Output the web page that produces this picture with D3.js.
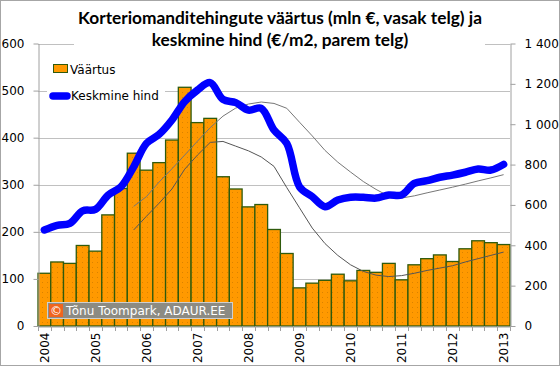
<!DOCTYPE html>
<html><head><meta charset="utf-8">
<script src="https://cdn.jsdelivr.net/npm/d3@7"></script>
<style>
html,body{margin:0;padding:0;background:#fff;}
svg{display:block;font-family:"DejaVu Sans",Verdana,sans-serif;}
</style></head>
<body>
<svg id="chart" width="560" height="366"></svg>
<script>
const quarters = ["2004 Q1","2004 Q2","2004 Q3","2004 Q4","2005 Q1","2005 Q2","2005 Q3","2005 Q4",
"2006 Q1","2006 Q2","2006 Q3","2006 Q4","2007 Q1","2007 Q2","2007 Q3","2007 Q4",
"2008 Q1","2008 Q2","2008 Q3","2008 Q4","2009 Q1","2009 Q2","2009 Q3","2009 Q4",
"2010 Q1","2010 Q2","2010 Q3","2010 Q4","2011 Q1","2011 Q2","2011 Q3","2011 Q4",
"2012 Q1","2012 Q2","2012 Q3","2012 Q4","2013 Q1"];
const yearTicks = ["2004 Q1","2005 Q1","2006 Q1","2007 Q1","2008 Q1","2009 Q1","2010 Q1","2011 Q1","2012 Q1","2013 Q1"];
// Väärtus (mln €, left axis)
const vaartus = [112,136,133,171,159,236,292,367,331,347,395,507,432,441,317,291,253,258,205,154,81,91,97,110,96,118,114,133,98,130,143,151,137,164,181,177,173];
// Keskmine hind (€/m2, right axis)
const hind = [476,499,509,571,578,649,690,789,905,950,1021,1112,1169,1206,1123,1107,1070,1079,971,905,690,641,591,624,638,638,634,649,649,707,720,737,748,762,778,773,801];
// 8-quarter moving average trend lines, start at 2005 Q4
const hindTrend = [null,null,null,null,null,null,null,593,641,714,779,847,916,983,1040,1080,1100,1110,1103,1079,1010,942,870,812,763,716,677,643,634,645,660,674,688,703,719,734,750];
const vaartusTrend = [null,null,null,null,null,null,null,204,233,261,291,333,363,390,392,382,372,359,339,294,251,208,175,150,130,116,108,105,107,112,118,123,128,136,143,150,157];
const leftTicks = [0,100,200,300,400,500,600];
const rightTicks = [0,200,400,600,800,1000,1200,1400];
const titleLines = ["Korteriomanditehingute väärtus (mln €, vasak telg) ja","keskmine hind (€/m2, parem telg)"];

const svg = d3.select("#chart");
const L = 38, R = 510, B = 326, T = 43.5;
const x = d3.scaleBand().domain(quarters).range([L, R]).padding(0);
const yL = d3.scaleLinear().domain([0,600]).range([B, T]);
const yR = d3.scaleLinear().domain([0,1400]).range([B, T]);

// outer border
svg.append("rect").attr("x",0.5).attr("y",0.5).attr("width",559).attr("height",365)
  .attr("fill","#fff").attr("stroke","#a6a6a6");

// pattern for bars
const defs = svg.append("defs");
const pat = defs.append("pattern").attr("id","dots").attr("patternUnits","userSpaceOnUse")
  .attr("width",5).attr("height",5);
pat.append("rect").attr("width",5).attr("height",5).attr("fill","#ff9900");
pat.append("rect").attr("x",2).attr("y",2).attr("width",1).attr("height",1).attr("fill","#d98200");

// gridlines
svg.append("g").selectAll("line").data(leftTicks.filter(d=>d>0)).join("line")
  .attr("x1",L).attr("x2",R)
  .attr("y1",d=>Math.round(yL(d))+0.5).attr("y2",d=>Math.round(yL(d))+0.5)
  .attr("stroke","#c0c0c0").attr("stroke-width",1);

// bars
svg.append("g").selectAll("rect").data(vaartus).join("rect")
  .attr("x",(d,i)=>x(quarters[i]))
  .attr("width",x.bandwidth())
  .attr("y",d=>yL(d))
  .attr("height",d=>B-yL(d))
  .attr("fill","url(#dots)")
  .attr("stroke","#2f5a0c").attr("stroke-width",1.3);

// trend lines
const xc = i => x(quarters[i]) + x.bandwidth()/2;
const lineL = d3.line().defined(d=>d!=null).x((d,i)=>xc(i)).y(d=>yL(d));
const lineR = d3.line().defined(d=>d!=null).x((d,i)=>xc(i)).y(d=>yR(d));
svg.append("path").attr("d",lineL(vaartusTrend)).attr("fill","none").attr("stroke","#555").attr("stroke-width",1);
svg.append("path").attr("d",lineR(hindTrend)).attr("fill","none").attr("stroke","#777").attr("stroke-width",1);

// blue price line
const lineHind = d3.line().x((d,i)=>xc(i)).y(d=>yR(d)).curve(d3.curveCatmullRom.alpha(0.5));
svg.append("path").attr("d",lineHind(hind)).attr("fill","none").attr("stroke","#0000ff")
  .attr("stroke-width",7.5).attr("stroke-linecap","round").attr("stroke-linejoin","round");

// axes
const fmt = d3.formatLocale({decimal:",",thousands:"\u00a0",grouping:[3],currency:["","€"]}).format(",");
const gL = svg.append("g").attr("transform",`translate(${L+0.5},0)`)
  .call(d3.axisLeft(yL).tickValues(leftTicks).tickSize(5).tickSizeOuter(0).tickPadding(9));
const gR = svg.append("g").attr("transform",`translate(${R+0.5},0)`)
  .call(d3.axisRight(yR).tickValues(rightTicks).tickSize(5).tickSizeOuter(0).tickPadding(9).tickFormat(d=>fmt(d).replace(/\u00a0/g," ")));
[gL,gR].forEach(g=>{
  g.select(".domain").attr("stroke","#a0a0a0");
  g.selectAll(".tick line").attr("stroke","#a0a0a0");
  g.selectAll(".tick text").attr("font-size",12).attr("fill","#000").attr("font-family","DejaVu Sans, Verdana, sans-serif");
});
// x axis
const gX = svg.append("g").attr("transform",`translate(0,${B+0.5})`)
  .call(d3.axisBottom(x).tickValues(yearTicks).tickSize(0).tickSizeOuter(0).tickFormat(d=>d.slice(0,4)));
gX.select(".domain").attr("stroke","#a0a0a0");
gX.selectAll(".tick text").attr("font-size",12).attr("fill","#000")
  .attr("font-family","DejaVu Sans, Verdana, sans-serif")
  .attr("transform","rotate(-90)").attr("x",-6).attr("y",0).attr("dy","0.35em").style("text-anchor","end");
// category boundary ticks
svg.append("g").selectAll("line").data(quarters.map(q=>x(q)).concat([R])).join("line")
  .attr("x1",d=>Math.round(d)+0.5).attr("x2",d=>Math.round(d)+0.5).attr("y1",B).attr("y2",B+5)
  .attr("stroke","#a0a0a0");

// title with white background
svg.append("rect").attr("x",74).attr("y",4).attr("width",411).attr("height",50).attr("fill","#fff");
const title = svg.append("g");
titleLines.forEach((t,i)=>{
  title.append("text").attr("x",280).attr("y",i===0?23.5:46).attr("text-anchor","middle")
    .attr("font-family","Lato, 'Liberation Sans', sans-serif").attr("font-weight","bold")
    .attr("font-size",16).attr("fill","#000").text(t);
});
// fit first line to ~404px
const t0 = title.select("text").node();
const w0 = t0.getComputedTextLength();
const fs = 16*404/w0;
title.selectAll("text").attr("font-size",fs);

// legend
const lg = svg.append("g");
lg.append("rect").attr("x",47).attr("y",57).attr("width",118).attr("height",46).attr("fill","#fff");
lg.append("rect").attr("x",53.5).attr("y",64.5).attr("width",14).attr("height",8)
  .attr("fill","#ff9900").attr("stroke","#2f5a0c");
lg.append("text").attr("x",70).attr("y",73).attr("font-size",12).attr("dy","0.1em").text("Väärtus");
lg.append("line").attr("x1",53).attr("x2",67).attr("y1",96).attr("y2",96)
  .attr("stroke","#0000ff").attr("stroke-width",7.5).attr("stroke-linecap","round");
lg.append("text").attr("x",71).attr("y",96).attr("dy","0.35em").attr("font-size",12).text("Keskmine hind");

// copyright box
const cb = svg.append("g");
cb.append("rect").attr("x",47.5).attr("y",302.5).attr("width",185).attr("height",16)
  .attr("fill","#8c8b83").attr("stroke","#cfcfcf");
cb.append("rect").attr("x",49).attr("y",304).attr("width",14).attr("height",13).attr("fill","#f0651e");
cb.append("text").attr("x",56).attr("y",315).attr("text-anchor","middle").attr("font-size",12).attr("fill","#fff").text("©");
cb.append("text").attr("x",66).attr("y",315).attr("font-size",12).attr("fill","#fff").text("Tõnu Toompark, ADAUR.EE");
</script>
</body></html>
